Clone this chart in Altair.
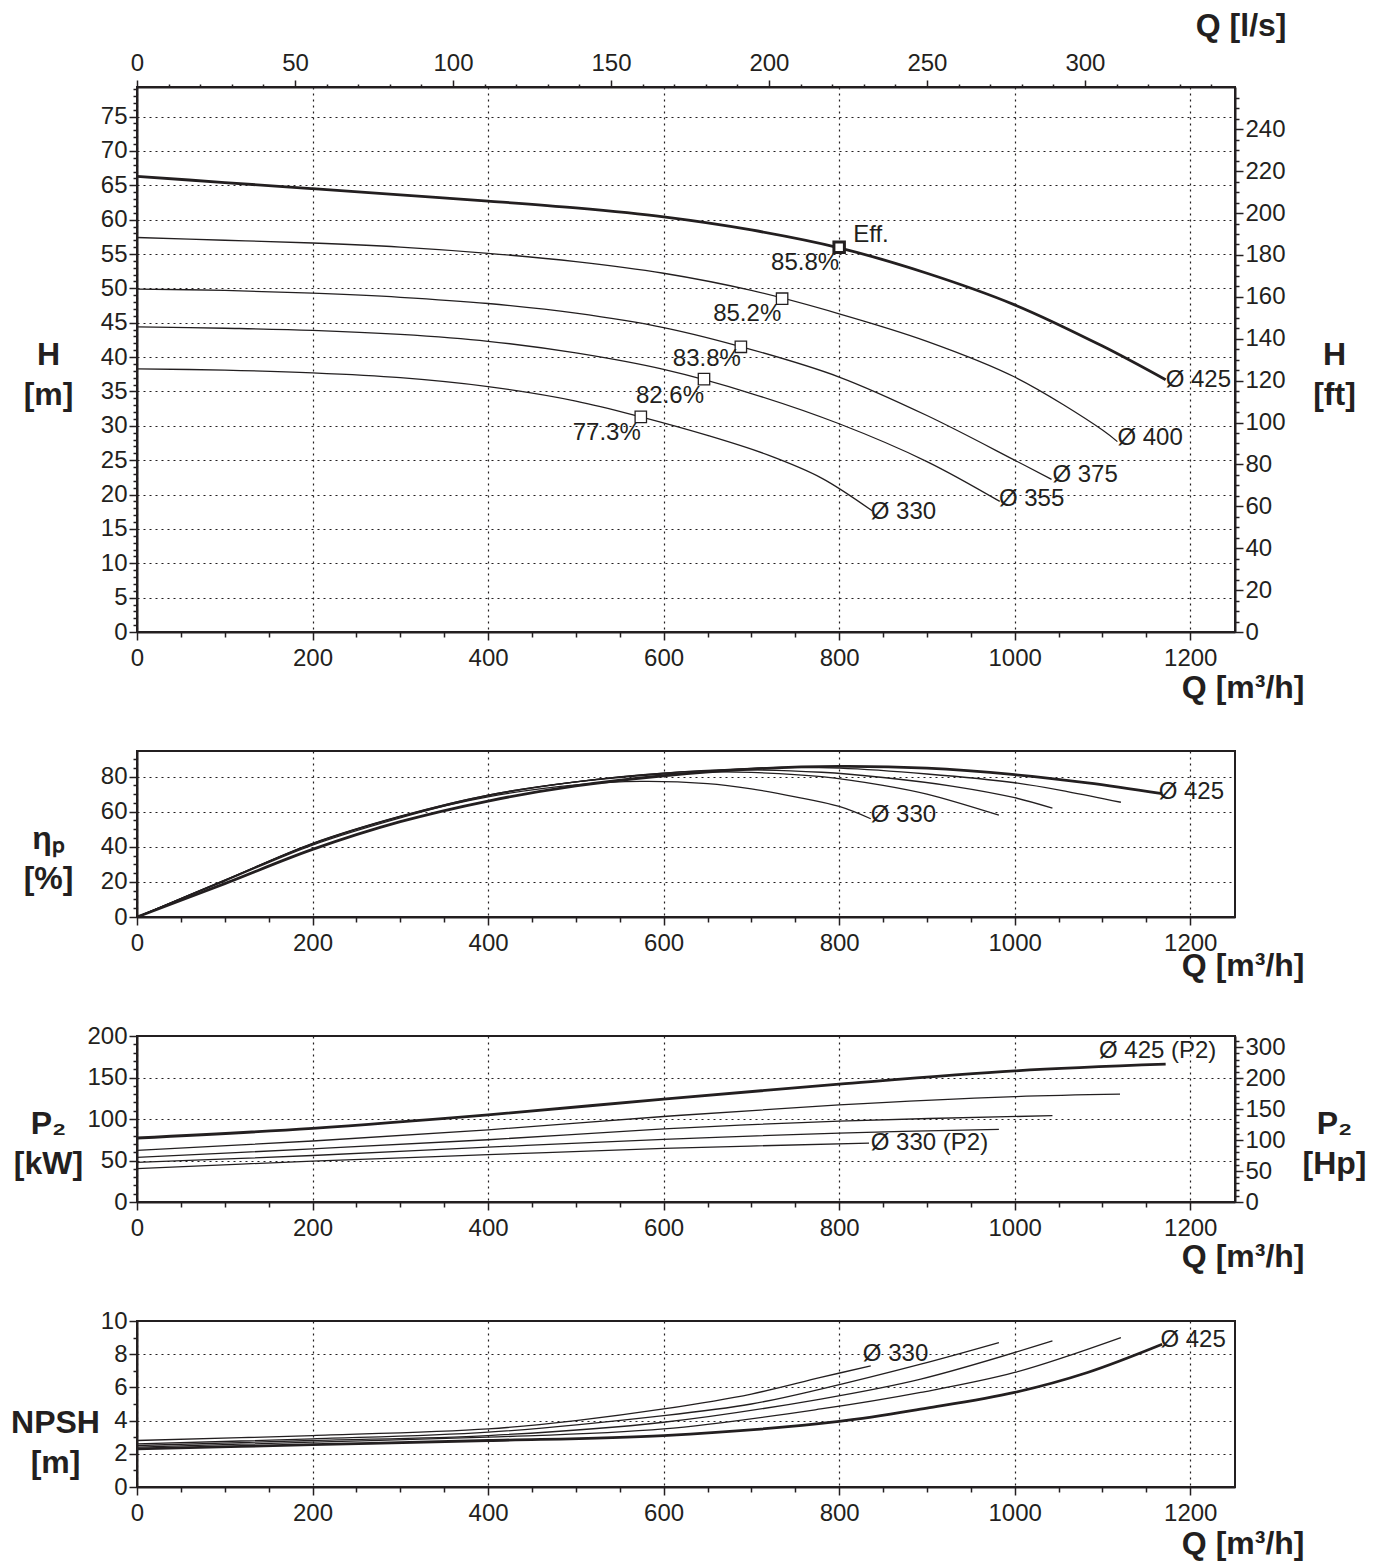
import altair as alt
import pandas as pd

INK = "#231f20"
FONT = "Liberation Sans"

# ---------------- H (head) curves [m] ----------------
H330_Q = [0, 100, 200, 300, 400, 500, 574, 650, 720, 780, 838]
H330_V = [38.3, 38.1, 37.7, 37.0, 35.7, 33.6, 31.3, 28.6, 25.7, 22.4, 17.6]
H355_Q = [0, 100, 200, 300, 400, 500, 600, 700, 800, 900, 983]
H355_V = [44.4, 44.2, 43.9, 43.3, 42.3, 40.6, 38.2, 34.7, 30.3, 24.8, 19.0]
H375_Q = [0, 100, 200, 300, 400, 500, 600, 700, 800, 900, 1000, 1042]
H375_V = [49.9, 49.7, 49.3, 48.7, 47.8, 46.4, 44.3, 41.1, 37.1, 31.5, 25.0, 22.2]
H400_Q = [0, 100, 200, 300, 400, 500, 600, 700, 800, 900, 1000, 1100, 1117]
H400_V = [57.4, 57.0, 56.6, 56.0, 55.1, 53.9, 52.2, 49.7, 46.3, 42.3, 37.1, 29.4, 27.7]
H425_Q = [0, 100, 200, 300, 400, 500, 600, 700, 800, 900, 1000, 1100, 1172]
H425_V = [66.3, 65.4, 64.5, 63.6, 62.7, 61.7, 60.4, 58.5, 55.9, 52.2, 47.6, 41.6, 36.7]

# best efficiency points
BEP_Q = [574, 646, 688, 735]
BEP_H = [31.3, 36.8, 41.5, 48.5]
EFF_Q = [800]
EFF_H = [56.0]
PCT_TEXT = ["77.3%", "82.6%", "83.8%", "85.2%", "85.8%"]
PCT_Q = [574, 646, 688, 734, 800]
PCT_H = [29.0, 34.4, 39.7, 46.3, 53.7]
HDIA_TEXT = ["Ø 330", "Ø 355", "Ø 375", "Ø 400", "Ø 425"]
HDIA_Q = [836, 982, 1043, 1117, 1172]
HDIA_H = [17.5, 19.4, 22.9, 28.2, 36.7]

# ---------------- efficiency curves [%] ----------------
E330_Q = [0, 100, 200, 300, 400, 500, 574, 650, 700, 750, 800, 836]
E330_V = [0, 21, 41.5, 57, 68.5, 75.3, 77.3, 76, 73, 68.5, 63, 56]
E355_Q = [0, 100, 200, 300, 400, 500, 600, 647, 700, 780, 850, 900, 982]
E355_V = [0, 21, 42, 57.5, 69.5, 77, 81.5, 82.6, 82.4, 80, 75, 70, 58]
E375_Q = [0, 100, 200, 300, 400, 500, 600, 688, 780, 850, 930, 1000, 1043]
E375_V = [0, 20.8, 41.8, 57.3, 69.5, 77, 82, 83.8, 82.5, 79.5, 74.5, 68, 62]
E400_Q = [0, 100, 200, 300, 400, 500, 600, 700, 735, 800, 900, 1000, 1060, 1121]
E400_V = [0, 20.5, 41, 56.5, 69, 77, 82, 84.7, 85.2, 84.8, 81.5, 76.5, 71.5, 65.4]
E425_Q = [0, 100, 200, 300, 400, 500, 600, 700, 800, 900, 1000, 1083, 1168]
E425_V = [0, 19, 38.5, 54.3, 66.1, 74.7, 80.5, 84.3, 85.8, 84.8, 81.1, 76.4, 70.3]
EDIA_TEXT = ["Ø 330", "Ø 425"]
EDIA_Q = [836, 1164]
EDIA_V = [58.2, 71.3]

# ---------------- P2 curves [kW] ----------------
P330_Q = [0, 200, 400, 600, 834]
P330_V = [40.2, 49.3, 57, 64.5, 71]
P355_Q = [0, 200, 400, 600, 800, 982]
P355_V = [47.8, 56, 66, 75.5, 83, 87.5]
P375_Q = [0, 200, 400, 600, 800, 1043]
P375_V = [53.8, 64, 75, 88, 97.5, 104]
P400_Q = [0, 200, 400, 600, 800, 1000, 1120]
P400_V = [62.3, 73.5, 87, 103, 117, 127, 130]
P425_Q = [0, 200, 400, 600, 800, 1000, 1172]
P425_V = [77.1, 88.8, 105, 124, 142, 158, 166]
PDIA_TEXT = ["Ø 330 (P2)", "Ø 425 (P2)"]
PDIA_Q = [836, 1096]
PDIA_V = [71, 182]

# ---------------- NPSH curves [m] ----------------
N330_Q = [0, 200, 400, 500, 600, 700, 779, 836]
N330_V = [2.8, 3.1, 3.5, 4.0, 4.7, 5.6, 6.6, 7.3]
N355_Q = [0, 200, 400, 600, 700, 779, 893, 982]
N355_V = [2.6, 2.9, 3.3, 4.3, 5.0, 5.9, 7.4, 8.7]
N375_Q = [0, 200, 400, 600, 779, 893, 1043]
N375_V = [2.5, 2.8, 3.1, 3.9, 5.3, 6.5, 8.8]
N400_Q = [0, 200, 400, 600, 779, 893, 1000, 1121]
N400_V = [2.4, 2.7, 3.0, 3.5, 4.7, 5.7, 6.9, 9.0]
N425_Q = [0, 200, 400, 600, 800, 900, 1000, 1083, 1168]
N425_V = [2.3, 2.55, 2.8, 3.1, 3.95, 4.75, 5.7, 6.9, 8.6]
NDIA_TEXT = ["Ø 330", "Ø 425"]
NDIA_Q = [827, 1166]
NDIA_V = [8.0, 8.86]

# ---------------- axis extents ----------------
Q_MAX = 1251
H_MAX = 79.3
E_MAX = 94.6
P_MAX = 200
N_MAX = 10


def curves(sets):
    rows = []
    for d, qs, vs in sets:
        for q, v in zip(qs, vs):
            rows.append({"d": str(d), "Q": q, "v": v, "w": "thick" if d == 425 else "thin"})
    return pd.DataFrame(rows)


def labels(texts, qs, vs):
    return pd.DataFrame({"label": texts, "Q": qs, "v": vs})


def cond(test, a, b):
    return {"condition": {"test": test, "value": a}, "value": b}


XS = alt.Scale(domain=[0, Q_MAX], nice=False, zero=False)
SW = alt.StrokeWidth("w:N", scale=alt.Scale(domain=["thin", "thick"], range=[1.3, 2.8]), legend=None)


def x_enc(title_y):
    return alt.X(
        "Q:Q", scale=XS,
        axis=alt.Axis(
            values=list(range(0, 1201, 50)), format="d",
            labelExpr="datum.value % 200 === 0 ? datum.label : ''",
            tickSize=cond("datum.value % 200 === 0", 8, 5),
            labelPadding=6,
            grid=True, gridOpacity=cond("datum.value % 200 === 0", 1, 0),
            title="Q [m³/h]", titleX=1167, titleY=title_y, titleAlign="right",
            titleBaseline="middle", titleAngle=0,
        ),
    )


def y_enc(field, vmax, step, nmax, major, title, tx, ty, orient="left", grid=True, label_expr=None):
    vals = []
    k = 0
    while k * step <= nmax + 1e-9:
        vals.append(round(k * step, 3))
        k += 1
    test = f"datum.value % {major} === 0"
    return alt.Y(
        field, scale=alt.Scale(domain=[0, vmax], nice=False, zero=False),
        axis=alt.Axis(
            orient=orient, values=vals, format="d",
            labelExpr=label_expr if label_expr else f"{test} ? datum.label : ''",
            tickSize=cond(test, 8, 4), labelPadding=2,
            grid=grid, gridOpacity=cond(test, 1, 0),
            title=title, titleX=tx, titleY=ty, titleAlign="center",
            titleBaseline="middle", titleAngle=0,
        ),
    )


def text_layer(df, x, y, align):
    return alt.Chart(df).mark_text(align=align, baseline="middle", fontSize=24, font=FONT, color=INK).encode(
        x=x, y=y, text="label:N")


def line_layer(df, x, y):
    return alt.Chart(df).mark_line(interpolate="catmull-rom", color=INK).encode(
        x=x, y=y, detail="d:N", strokeWidth=SW)


W = 1098

# ---------------- panel 1: H ----------------
h_df = curves([(330, H330_Q, H330_V), (355, H355_Q, H355_V), (375, H375_Q, H375_V),
               (400, H400_Q, H400_V), (425, H425_Q, H425_V)])
xh = x_enc(55)
yh = y_enc("v:Q", H_MAX, 1, 79, 5, ["H", "[m]"], -89, 267)
h_lines = line_layer(h_df, xh, yh)
h_sq = alt.Chart(labels(["", "", "", ""], BEP_Q, BEP_H)).mark_point(
    shape="square", filled=True, fill="white", stroke=INK, strokeWidth=1.3, size=130, opacity=1
).encode(x=xh, y=yh)
h_eff = alt.Chart(labels([""], EFF_Q, EFF_H)).mark_point(
    shape="square", filled=True, fill="white", stroke=INK, strokeWidth=3, size=110, opacity=1
).encode(x=xh, y=yh)
h_pct = text_layer(labels(PCT_TEXT, PCT_Q, PCT_H), xh, yh, "right")
h_dia = text_layer(labels(HDIA_TEXT, HDIA_Q, HDIA_H), xh, yh, "left")
h_efft = text_layer(labels(["Eff."], [816], [57.8]), xh, yh, "left")
h_main = alt.layer(h_lines, h_sq, h_eff, h_pct, h_dia, h_efft)

FT_MAX = H_MAX / 0.3048
h_ft = alt.Chart(pd.DataFrame({"ft": [0, FT_MAX]})).mark_rule(opacity=0).encode(
    y=alt.Y("ft:Q", scale=alt.Scale(domain=[0, FT_MAX], nice=False, zero=False),
            axis=alt.Axis(orient="right", values=list(range(0, 256, 5)), format="d",
                          labelExpr="datum.value % 20 === 0 ? datum.label : ''",
                          tickSize=cond("datum.value % 20 === 0", 8, 4), labelPadding=2, grid=False,
                          title=["H", "[ft]"], titleX=99, titleY=267, titleAlign="center",
                          titleBaseline="middle", titleAngle=0)))
LS_MAX = Q_MAX / 3.6
h_ls = alt.Chart(pd.DataFrame({"ls": [0, LS_MAX]})).mark_rule(opacity=0).encode(
    x=alt.X("ls:Q", scale=alt.Scale(domain=[0, LS_MAX], nice=False, zero=False),
            axis=alt.Axis(orient="top", values=list(range(0, 341, 10)), format="d",
                          labelExpr="datum.value % 50 === 0 ? datum.label : ''",
                          tickSize=cond("datum.value % 50 === 0", 7, 3), labelPadding=5, grid=False,
                          title="Q [l/s]", titleX=1149, titleY=-62, titleAlign="right",
                          titleBaseline="middle", titleAngle=0)))
h_panel = alt.layer(h_main, h_ft, h_ls).resolve_scale(x="independent", y="independent").properties(
    width=W, height=545)

# ---------------- panel 2: efficiency ----------------
e_df = curves([(330, E330_Q, E330_V), (355, E355_Q, E355_V), (375, E375_Q, E375_V),
               (400, E400_Q, E400_V), (425, E425_Q, E425_V)])
xe = x_enc(48)
ye = y_enc("v:Q", E_MAX, 5, 90, 20, ["ηₚ", "[%]"], -89, 87)
e_panel = alt.layer(
    line_layer(e_df, xe, ye),
    text_layer(labels(EDIA_TEXT, EDIA_Q, EDIA_V), xe, ye, "left"),
).properties(width=W, height=166)

# ---------------- panel 3: P2 ----------------
p_df = curves([(330, P330_Q, P330_V), (355, P355_Q, P355_V), (375, P375_Q, P375_V),
               (400, P400_Q, P400_V), (425, P425_Q, P425_V)])
xp = x_enc(54)
yp = y_enc("v:Q", P_MAX, 10, 200, 50, ["P₂", "[kW]"], -89, 87)
p_main = alt.layer(
    line_layer(p_df, xp, yp),
    text_layer(labels(PDIA_TEXT, PDIA_Q, PDIA_V), xp, yp, "left"),
)
HP_MAX = P_MAX / 0.7457
p_hp = alt.Chart(pd.DataFrame({"hp": [0, HP_MAX]})).mark_rule(opacity=0).encode(
    y=alt.Y("hp:Q", scale=alt.Scale(domain=[0, HP_MAX], nice=False, zero=False),
            axis=alt.Axis(orient="right", values=list(range(0, 261, 10)), format="d",
                          labelExpr="datum.value % 50 === 0 ? (datum.value === 250 ? '300' : datum.label) : ''",
                          tickSize=cond("datum.value % 50 === 0", 8, 4), labelPadding=2, grid=False,
                          title=["P₂", "[Hp]"], titleX=99, titleY=87, titleAlign="center",
                          titleBaseline="middle", titleAngle=0)))
p_panel = alt.layer(p_main, p_hp).resolve_scale(y="independent").properties(width=W, height=166)

# ---------------- panel 4: NPSH ----------------
n_df = curves([(330, N330_Q, N330_V), (355, N355_Q, N355_V), (375, N375_Q, N375_V),
               (400, N400_Q, N400_V), (425, N425_Q, N425_V)])
xn = x_enc(56)
yn = y_enc("v:Q", N_MAX, 0.5, 10, 2, ["NPSH", "[m]"], -82, 101)
n_panel = alt.layer(
    line_layer(n_df, xn, yn),
    text_layer(labels(NDIA_TEXT, NDIA_Q, NDIA_V), xn, yn, "left"),
).properties(width=W, height=166)

chart = alt.vconcat(h_panel, e_panel, p_panel, n_panel, spacing=119, bounds="flush").resolve_scale(
    x="independent", y="independent"
).properties(
    padding={"left": 1, "top": 0, "right": 5, "bottom": 5}
).configure(font=FONT).configure_view(
    stroke=INK, strokeWidth=2
).configure_axis(
    labelFont=FONT, labelFontSize=24, labelColor=INK, labelFlush=False, labelOverlap=False,
    tickColor=INK, tickWidth=1.5, domainColor=INK, domainWidth=2,
    gridColor=INK, gridDash=[2, 4], gridWidth=1.2,
    titleFont=FONT, titleFontSize=32, titleFontWeight="bold", titleColor=INK, titleLineHeight=40,
)

chart.save("out.html", embed_options={"renderer": "svg", "actions": False})
